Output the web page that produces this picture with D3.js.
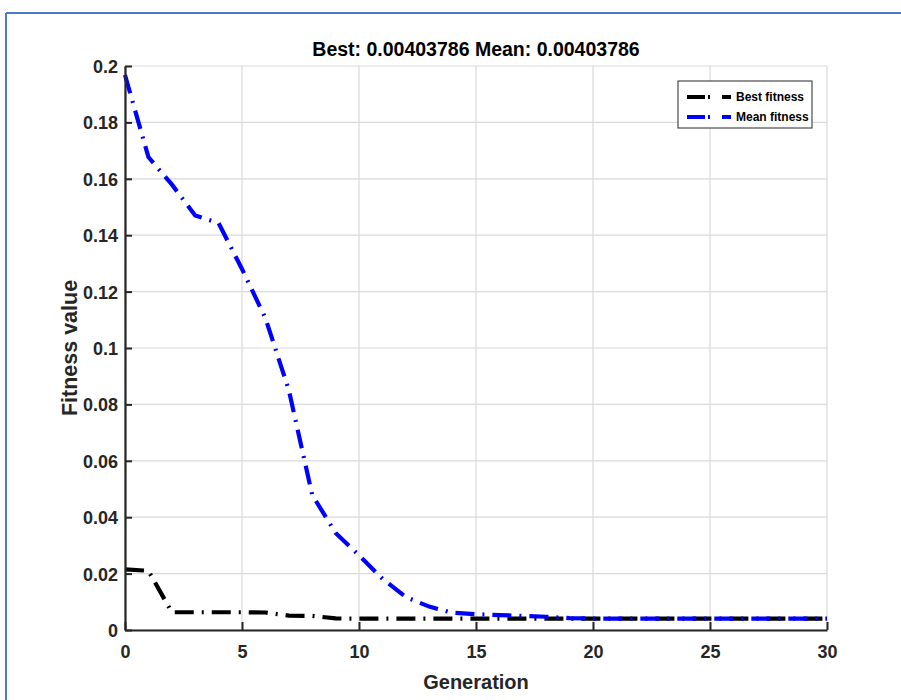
<!DOCTYPE html>
<html>
<head>
<meta charset="utf-8">
<script src="https://cdn.jsdelivr.net/npm/d3@7"></script>
<style>
  body { margin: 0; background: #fff; }
  svg { display: block; font-family: "Liberation Sans", Arial, sans-serif; }
</style>
</head>
<body>
<svg id="chart" width="901" height="700"></svg>
<script>
// --- data ---
const generations = d3.range(0, 31);
const bestFitness = [
  0.0215, 0.0210, 0.0063, 0.0063, 0.0063, 0.0063, 0.0062, 0.0051, 0.0050, 0.0041,
  0.00404, 0.00404, 0.00404, 0.00404, 0.00404, 0.00404, 0.00404, 0.00404, 0.00404, 0.00404,
  0.00404, 0.00404, 0.00404, 0.00404, 0.00404, 0.00404, 0.00404, 0.00404, 0.00404, 0.00404, 0.00404
];
const meanFitness = [
  0.1968, 0.1677, 0.1580, 0.1470, 0.1443, 0.1280, 0.1106, 0.0851, 0.0479, 0.0344,
  0.0265, 0.0182, 0.0117, 0.0083, 0.0061, 0.0056, 0.0053, 0.0050, 0.0047, 0.0042,
  0.00405, 0.00405, 0.00404, 0.00404, 0.00404, 0.00404, 0.00404, 0.00404, 0.00404, 0.00404, 0.00404
];
const xTicks = [0, 5, 10, 15, 20, 25, 30];
const yTicks = [0, 0.02, 0.04, 0.06, 0.08, 0.1, 0.12, 0.14, 0.16, 0.18, 0.2];
const yTickLabels = ["0", "0.02", "0.04", "0.06", "0.08", "0.1", "0.12", "0.14", "0.16", "0.18", "0.2"];
const titleText = "Best: 0.00403786 Mean: 0.00403786";
const legendLabels = ["Best fitness", "Mean fitness"];

// --- setup ---
const margin = { top: 66, right: 74, bottom: 70, left: 125 };
const width = 901 - margin.left - margin.right;   // 702
const height = 700 - margin.top - margin.bottom;  // 564
const dashDot = "19,8,2,8";

const root = d3.select("#chart");

// outer frame (blue border of the figure window)
root.append("line")
  .attr("x1", 6).attr("y1", 13).attr("x2", 901).attr("y2", 13)
  .attr("stroke", "#4a7cc4").attr("stroke-width", 2);
root.append("line")
  .attr("x1", 6).attr("y1", 13).attr("x2", 6).attr("y2", 700)
  .attr("stroke", "#4a7cc4").attr("stroke-width", 2);

const svg = root.append("g")
  .attr("transform", `translate(${margin.left},${margin.top})`);

// --- scales ---
const x = d3.scaleLinear().domain([0, 30]).range([0, width]);
const y = d3.scaleLinear().domain([0, 0.2]).range([height, 0]);

// --- grid ---
const grid = svg.append("g").attr("stroke", "#d9d9d9").attr("stroke-width", 1.2);
grid.selectAll(".gx")
  .data(xTicks)
  .join("line")
  .attr("x1", d => x(d)).attr("x2", d => x(d))
  .attr("y1", 0).attr("y2", height);
grid.selectAll(".gy")
  .data(yTicks)
  .join("line")
  .attr("x1", 0).attr("x2", width)
  .attr("y1", d => y(d)).attr("y2", d => y(d));

// --- lines ---
const pairs = (vals) => generations.map((g, i) => [g, vals[i]]);
const line = d3.line().x(d => x(d[0])).y(d => y(d[1]));

svg.append("path")
  .attr("d", line(pairs(bestFitness)))
  .attr("fill", "none")
  .attr("stroke", "#000")
  .attr("stroke-width", 4.2)
  .attr("stroke-dasharray", dashDot);

svg.append("path")
  .attr("d", line(pairs(meanFitness)))
  .attr("fill", "none")
  .attr("stroke", "#0000ff")
  .attr("stroke-width", 4.2)
  .attr("stroke-dasharray", dashDot);

// --- axes ---
const xAxis = svg.append("g")
  .attr("transform", `translate(0,${height})`)
  .call(d3.axisBottom(x).tickValues(xTicks).tickFormat(d3.format("d"))
    .tickSizeInner(-8).tickSizeOuter(0).tickPadding(15));
const yAxis = svg.append("g")
  .call(d3.axisLeft(y).tickValues(yTicks).tickFormat((d, i) => yTickLabels[i])
    .tickSizeInner(-7).tickSizeOuter(0).tickPadding(7));

[xAxis, yAxis].forEach(ax => {
  ax.select(".domain").attr("stroke", "#262626").attr("stroke-width", 2.2);
  ax.selectAll(".tick line").attr("stroke", "#262626").attr("stroke-width", 2);
  ax.selectAll(".tick text")
    .attr("fill", "#262626")
    .style("font-size", "18px")
    .style("font-weight", "bold")
    .style("font-family", "'Liberation Sans', Arial, sans-serif");
});
yAxis.selectAll(".tick text").attr("dy", "0.36em");

// --- titles ---
svg.append("text")
  .attr("x", width / 2)
  .attr("y", -10)
  .attr("text-anchor", "middle")
  .style("font-size", "19.5px")
  .style("font-weight", "bold")
  .attr("fill", "#000")
  .text(titleText);

svg.append("text")
  .attr("x", width / 2)
  .attr("y", height + 59)
  .attr("text-anchor", "middle")
  .style("font-size", "20px")
  .style("font-weight", "bold")
  .attr("fill", "#262626")
  .text("Generation");

svg.append("text")
  .attr("transform", `translate(${-48},${height / 2}) rotate(-90)`)
  .attr("text-anchor", "middle")
  .style("font-size", "21.5px")
  .style("font-weight", "bold")
  .attr("fill", "#262626")
  .text("Fitness value");

// --- legend ---
const legend = svg.append("g").attr("transform", `translate(${678 - margin.left},${81 - margin.top})`);
legend.append("rect")
  .attr("width", 134).attr("height", 47)
  .attr("fill", "#fff").attr("stroke", "#262626").attr("stroke-width", 1);

const legendColors = ["#000", "#0000ff"];
const rows = legend.selectAll(".row")
  .data(legendLabels)
  .join("g")
  .attr("transform", (d, i) => `translate(0,${16 + i * 20})`);
rows.append("line")
  .attr("x1", 9).attr("x2", 53)
  .attr("stroke", (d, i) => legendColors[i])
  .attr("stroke-width", 4)
  .attr("stroke-dasharray", "18,3,2,12");
rows.append("text")
  .attr("x", 58)
  .attr("dy", "0.36em")
  .style("font-size", "12px")
  .style("font-weight", "bold")
  .attr("fill", "#000")
  .text(d => d);
</script>
</body>
</html>
